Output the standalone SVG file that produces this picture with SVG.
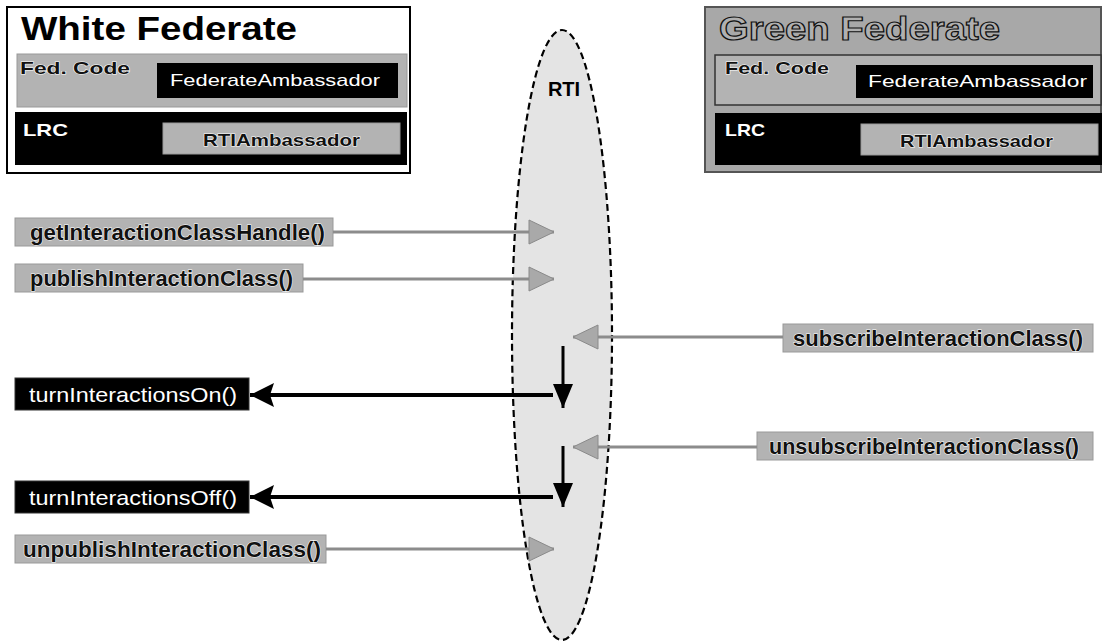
<svg xmlns="http://www.w3.org/2000/svg" width="1102" height="641" viewBox="0 0 1102 641">
<style>
  text { font-family: "Liberation Sans", Arial, sans-serif; }
  .title { font-size: 34px; font-weight: bold; fill: #000; }
  .gtitle { font-size: 34px; font-weight: bold; fill: #b0b0b0; stroke: #111; stroke-width: 1.2; }
  .graybox { fill: #b3b3b3; stroke: #999; stroke-width: 1; }
  .blackbox { fill: #000; stroke: #333; stroke-width: 1; }
  .glabel { font-size: 22px; font-weight: bold; fill: #111; stroke: #fff; stroke-width: 1; paint-order: stroke; }
  .wlabel { font-size: 21px; fill: #fff; }
  .small-g { font-size: 17px; font-weight: bold; fill: #111; stroke: #fff; stroke-width: 1; paint-order: stroke; }
  .small-w { font-size: 17px; fill: #fff; }
  .grayline { stroke: #8c8c8c; stroke-width: 3; fill: none; }
  .blackline { stroke: #000; stroke-width: 4; fill: none; }
  .downline { stroke: #000; stroke-width: 3; fill: none; }
</style>
<defs>
  <marker id="grayHead" markerUnits="userSpaceOnUse" markerWidth="28" markerHeight="28" refX="26" refY="13" orient="auto">
    <path d="M1,1 L26,13 L1,25 Z" fill="#a9a9a9" stroke="#8a8a8a" stroke-width="1"/>
  </marker>
  <marker id="blackHead" markerUnits="userSpaceOnUse" markerWidth="26" markerHeight="26" refX="24" refY="12" orient="auto">
    <path d="M0,0 L24,12 L0,24 L4,12 Z" fill="#000"/>
  </marker>
  <marker id="downHead" markerUnits="userSpaceOnUse" markerWidth="24" markerHeight="20" refX="24" refY="10" orient="auto">
    <path d="M0,0 L24,10 L0,20 Z" fill="#000"/>
  </marker>
</defs>
<rect width="1102" height="641" fill="#fff"/>

<!-- RTI ellipse -->
<g id="rti">
  <ellipse cx="562" cy="335" rx="50" ry="305" fill="#e4e4e4" stroke="#000" stroke-width="2.2" stroke-dasharray="7 4"/>
  <text x="564" y="96" text-anchor="middle" font-size="20" font-weight="bold" fill="#000">RTI</text>
</g>

<!-- White Federate -->
<g id="white-federate">
  <rect x="7" y="7" width="403" height="166" fill="#fff" stroke="#000" stroke-width="2"/>
  <text class="title" x="21" y="40" textLength="276" lengthAdjust="spacingAndGlyphs">White Federate</text>
  <rect x="17" y="54" width="390" height="53" class="graybox" stroke="#555"/>
  <text class="small-g" x="20" y="74" textLength="110" lengthAdjust="spacingAndGlyphs">Fed. Code</text>
  <rect x="157" y="63" width="241" height="35" fill="#000"/>
  <text class="small-w" x="170" y="86" textLength="210" lengthAdjust="spacingAndGlyphs">FederateAmbassador</text>
  <rect x="15" y="112" width="392" height="53" fill="#000"/>
  <text class="small-w" x="23" y="136" font-weight="bold" textLength="45" lengthAdjust="spacingAndGlyphs">LRC</text>
  <rect x="163" y="123" width="237" height="31" class="graybox"/>
  <text class="small-g" x="203" y="146" textLength="157" lengthAdjust="spacingAndGlyphs">RTIAmbassador</text>
</g>

<!-- Green Federate -->
<g id="green-federate">
  <rect x="705" y="7" width="396" height="165" fill="#a8a8a8" stroke="#555" stroke-width="2"/>
  <text class="gtitle" x="719" y="40" textLength="281" lengthAdjust="spacingAndGlyphs">Green Federate</text>
  <rect x="715" y="55" width="386" height="50" fill="#b3b3b3" stroke="#333" stroke-width="1.5"/>
  <text class="small-g" x="725" y="74" textLength="104" lengthAdjust="spacingAndGlyphs">Fed. Code</text>
  <rect x="856" y="65" width="237" height="33" fill="#000"/>
  <text class="small-w" x="868" y="87" textLength="219" lengthAdjust="spacingAndGlyphs">FederateAmbassador</text>
  <rect x="715" y="113" width="387" height="52" fill="#000"/>
  <text class="small-w" x="725" y="136" font-weight="bold" textLength="40" lengthAdjust="spacingAndGlyphs">LRC</text>
  <rect x="861" y="124" width="237" height="31" class="graybox"/>
  <text class="small-g" x="900" y="147" textLength="153" lengthAdjust="spacingAndGlyphs">RTIAmbassador</text>
</g>

<!-- Left side method nodes -->
<g id="getInteractionClassHandle">
  <rect x="15" y="218" width="318" height="28" class="graybox"/>
  <text class="glabel" x="30" y="240" textLength="295" lengthAdjust="spacingAndGlyphs">getInteractionClassHandle()</text>
</g>
<g id="publishInteractionClass">
  <rect x="15" y="264" width="288" height="28" class="graybox"/>
  <text class="glabel" x="30" y="286" textLength="263" lengthAdjust="spacingAndGlyphs">publishInteractionClass()</text>
</g>
<g id="turnInteractionsOn">
  <rect x="15" y="378" width="234" height="32" class="blackbox"/>
  <text class="wlabel" x="29" y="402" textLength="208" lengthAdjust="spacingAndGlyphs">turnInteractionsOn()</text>
</g>
<g id="turnInteractionsOff">
  <rect x="15" y="481" width="234" height="32" class="blackbox"/>
  <text class="wlabel" x="29" y="505" textLength="208" lengthAdjust="spacingAndGlyphs">turnInteractionsOff()</text>
</g>
<g id="unpublishInteractionClass">
  <rect x="15" y="535" width="311" height="28" class="graybox"/>
  <text class="glabel" x="23" y="557" textLength="298" lengthAdjust="spacingAndGlyphs">unpublishInteractionClass()</text>
</g>

<!-- Right side method nodes -->
<g id="subscribeInteractionClass">
  <rect x="783" y="324" width="310" height="28" class="graybox"/>
  <text class="glabel" x="793" y="346" textLength="290" lengthAdjust="spacingAndGlyphs">subscribeInteractionClass()</text>
</g>
<g id="unsubscribeInteractionClass">
  <rect x="757" y="432" width="336" height="28" class="graybox"/>
  <text class="glabel" x="769" y="454" textLength="310" lengthAdjust="spacingAndGlyphs">unsubscribeInteractionClass()</text>
</g>

<!-- Connectors -->
<g id="connectors">
  <line class="grayline" x1="333" y1="232" x2="554" y2="232" marker-end="url(#grayHead)"/>
  <line class="grayline" x1="303" y1="279" x2="554" y2="279" marker-end="url(#grayHead)"/>
  <line class="grayline" x1="783" y1="337" x2="573" y2="337" marker-end="url(#grayHead)"/>
  <line class="downline" x1="563" y1="346" x2="563" y2="408" marker-end="url(#downHead)"/>
  <line class="blackline" x1="553" y1="395" x2="250" y2="395" marker-end="url(#blackHead)"/>
  <line class="grayline" x1="757" y1="447" x2="573" y2="447" marker-end="url(#grayHead)"/>
  <line class="downline" x1="563" y1="446" x2="563" y2="507" marker-end="url(#downHead)"/>
  <line class="blackline" x1="553" y1="497" x2="250" y2="497" marker-end="url(#blackHead)"/>
  <line class="grayline" x1="326" y1="549" x2="554" y2="549" marker-end="url(#grayHead)"/>
</g>
</svg>
